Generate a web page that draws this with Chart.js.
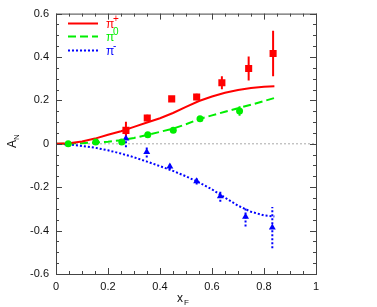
<!DOCTYPE html>
<html>
<head>
<meta charset="utf-8">
<script src="https://cdn.jsdelivr.net/npm/chart.js@4/dist/chart.umd.min.js"></script>
<style>
  html, body { margin: 0; padding: 0; background: #fff; }
  #wrap { width: 377px; height: 307px; }
</style>
</head>
<body>
<div id="wrap"><canvas id="asym"></canvas></div>
<script>
// measured points
const pipX = [0.269, 0.351, 0.445, 0.541, 0.638, 0.741, 0.835];
const pipY = [0.062, 0.119, 0.207, 0.216, 0.281, 0.347, 0.416];
const pipErr = [0.04, 0.015, 0.012, 0.015, 0.03, 0.055, 0.105];

const pi0X = [0.047, 0.153, 0.253, 0.353, 0.451, 0.554, 0.706];
const pi0Y = [0.0, 0.008, 0.008, 0.042, 0.062, 0.116, 0.151];
const pi0Err = [0.004, 0.004, 0.006, 0.006, 0.007, 0.008, 0.022];

const pimX = [0.269, 0.349, 0.438, 0.541, 0.632, 0.729, 0.832];
const pimY = [0.024, -0.038, -0.105, -0.173, -0.242, -0.336, -0.386];
const pimErr = [0.04, 0.025, 0.012, 0.015, 0.025, 0.045, 0.095];

// model curves
const curveX = [0, 0.05, 0.1, 0.15, 0.2, 0.25, 0.3, 0.35, 0.4, 0.45, 0.5, 0.55, 0.6, 0.65, 0.7, 0.75, 0.8, 0.84];
const curvePip = [0, 0.003, 0.011, 0.024, 0.042, 0.058, 0.078, 0.098, 0.118, 0.142, 0.17, 0.197, 0.218, 0.235, 0.248, 0.257, 0.263, 0.265];
const curvePi0 = [0, 0.001, 0.003, 0.006, 0.01, 0.016, 0.027, 0.041, 0.055, 0.07, 0.09, 0.114, 0.131, 0.148, 0.164, 0.18, 0.197, 0.211];
const curvePim = [0, -0.003, -0.01, -0.018, -0.03, -0.045, -0.062, -0.082, -0.103, -0.125, -0.15, -0.178, -0.21, -0.248, -0.285, -0.313, -0.33, -0.335];

const zeroLine = [{ x: 0, y: 0 }, { x: 1, y: 0 }];
const legendSup = ["+", "0", "-"];

const RED = "#ff0000";
const GREEN = "#00ee00";
const BLUE = "#0000ff";

function pts(xs, ys) {
  return xs.map((x, i) => ({ x: x, y: ys[i] }));
}
function errBars(xs, ys, es) {
  const out = [];
  xs.forEach((x, i) => {
    out.push({ x: x, y: ys[i] - es[i] });
    out.push({ x: x, y: ys[i] + es[i] });
    out.push({ x: x, y: null });
  });
  return out;
}

const frameTicks = {
  id: "frameTicks",
  afterDatasetsDraw(chart) {
    const ctx = chart.ctx;
    const a = chart.chartArea;
    const xs = chart.scales.x, ys = chart.scales.y;
    ctx.save();
    ctx.strokeStyle = "#444";
    ctx.lineWidth = 1;
    ctx.strokeRect(a.left + 0.5, a.top + 0.5, a.right - a.left, a.bottom - a.top);
    ctx.beginPath();
    for (let i = 0; i <= 20; i++) {
      const v = i * 0.05;
      const p = Math.round(xs.getPixelForValue(v)) + 0.5;
      const len = i % 4 === 0 ? 6 : 3;
      ctx.moveTo(p, a.bottom);
      ctx.lineTo(p, a.bottom - len);
      ctx.moveTo(p, a.top);
      ctx.lineTo(p, a.top + len);
    }
    for (let i = 0; i <= 24; i++) {
      const v = -0.6 + i * 0.05;
      const p = Math.round(ys.getPixelForValue(v)) + 0.5;
      const len = i % 4 === 0 ? 6 : 3;
      ctx.moveTo(a.left, p);
      ctx.lineTo(a.left + len, p);
      ctx.moveTo(a.right, p);
      ctx.lineTo(a.right - len, p);
    }
    ctx.stroke();

    // legend
    const rows = [23, 36, 50];
    ctx.textBaseline = "alphabetic";
    [0, 1, 2].forEach((k) => {
      const ds = chart.data.datasets[k];
      ctx.strokeStyle = ds.borderColor;
      ctx.lineWidth = 2;
      ctx.setLineDash(ds.borderDash || []);
      ctx.beginPath();
      ctx.moveTo(68, rows[k] + 0.5);
      ctx.lineTo(98, rows[k] + 0.5);
      ctx.stroke();
      ctx.setLineDash([]);
      ctx.fillStyle = ds.borderColor;
      ctx.font = "12px 'Liberation Sans', Arial, sans-serif";
      ctx.fillText("π", 106, rows[k] + 5);
      ctx.font = "10px 'Liberation Sans', Arial, sans-serif";
      ctx.fillText(legendSup[k], 113, rows[k] - 1);
    });

    // axis titles
    ctx.fillStyle = "#111";
    ctx.font = "12px 'Liberation Sans', Arial, sans-serif";
    ctx.fillText("x", 177, 302);
    ctx.font = "8px 'Liberation Sans', Arial, sans-serif";
    ctx.fillText("F", 184, 305);
    ctx.save();
    ctx.translate(16, 148);
    ctx.rotate(-Math.PI / 2);
    ctx.font = "12px 'Liberation Sans', Arial, sans-serif";
    ctx.fillText("A", 0, 0);
    ctx.font = "8px 'Liberation Sans', Arial, sans-serif";
    ctx.fillText("N", 8, 3);
    ctx.restore();
    ctx.restore();
  }
};

new Chart(document.getElementById("asym"), {
  type: "scatter",
  data: {
    datasets: [
      { label: "pi+ curve", data: pts(curveX, curvePip), showLine: true, borderColor: RED, borderWidth: 2, pointRadius: 0, order: 3 },
      { label: "pi0 curve", data: pts(curveX, curvePi0), showLine: true, borderColor: GREEN, borderWidth: 2, borderDash: [8, 4], pointRadius: 0, order: 3 },
      { label: "pi- curve", data: pts(curveX, curvePim), showLine: true, borderColor: BLUE, borderWidth: 2, borderDash: [2, 2], pointRadius: 0, order: 3 },
      { label: "zero", data: zeroLine, showLine: true, borderColor: "#aaaaaa", borderWidth: 1, borderDash: [2, 2], pointRadius: 0, order: 4 },
      { label: "pi+ err", data: errBars(pipX, pipY, pipErr), showLine: true, spanGaps: false, borderColor: RED, borderWidth: 2, pointRadius: 0, order: 2 },
      { label: "pi0 err", data: errBars(pi0X, pi0Y, pi0Err), showLine: true, spanGaps: false, borderColor: GREEN, borderWidth: 2, pointRadius: 0, order: 2 },
      { label: "pi- err", data: errBars(pimX, pimY, pimErr), showLine: true, spanGaps: false, borderColor: BLUE, borderWidth: 2, borderDash: [2, 2], pointRadius: 0, order: 2 },
      { label: "pi+", data: pts(pipX, pipY), pointStyle: "rect", pointRadius: 5, backgroundColor: RED, borderColor: RED, borderWidth: 0, order: 1 },
      { label: "pi0", data: pts(pi0X, pi0Y), pointStyle: "circle", pointRadius: 3.5, backgroundColor: GREEN, borderColor: GREEN, borderWidth: 0, order: 1 },
      { label: "pi-", data: pts(pimX, pimY), pointStyle: "triangle", pointRadius: 4, backgroundColor: BLUE, borderColor: BLUE, borderWidth: 0, order: 1 }
    ]
  },
  options: {
    responsive: true,
    maintainAspectRatio: false,
    animation: false,
    layout: { padding: { top: 13, right: 61, left: 0, bottom: 0 } },
    plugins: { legend: { display: false }, tooltip: { enabled: false } },
    scales: {
      x: {
        type: "linear",
        min: 0,
        max: 1,
        afterFit: (s) => { s.height = 33; },
        grid: { display: false, drawTicks: false },
        border: { display: false },
        ticks: {
          stepSize: 0.2,
          padding: 6,
          color: "#111",
          font: { family: "'Liberation Sans', Arial, sans-serif", size: 11 },
          callback: (v) => (Math.abs(v) < 1e-9 ? "0" : v === 1 ? "1" : v.toFixed(1))
        }
      },
      y: {
        type: "linear",
        min: -0.6,
        max: 0.6,
        afterFit: (s) => { s.width = 56; },
        grid: { display: false, drawTicks: false },
        border: { display: false },
        ticks: {
          stepSize: 0.2,
          padding: 7,
          color: "#111",
          font: { family: "'Liberation Sans', Arial, sans-serif", size: 11 },
          callback: (v) => (Math.abs(v) < 1e-9 ? "0" : v.toFixed(1))
        }
      }
    }
  },
  plugins: [frameTicks]
});
</script>
</body>
</html>
